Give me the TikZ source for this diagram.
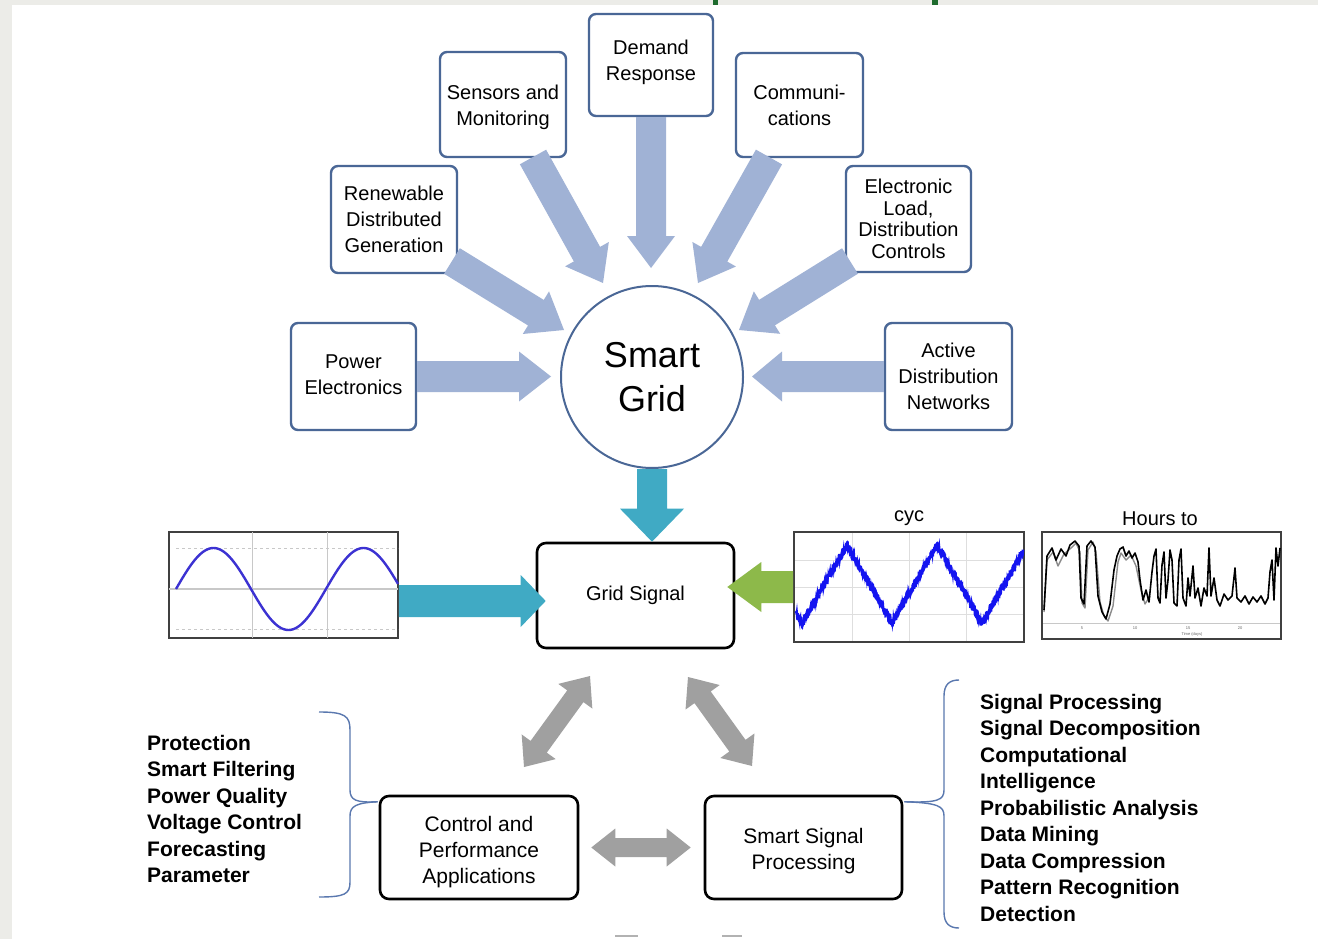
\documentclass[tikz,border=0pt]{standalone}
\usepackage{fontspec}
\setmainfont{Liberation Sans}
\usetikzlibrary{calc}

\definecolor{boxblue}{RGB}{74,103,150}
\definecolor{arrowblue}{RGB}{160,178,213}
\definecolor{sgteal}{RGB}{64,170,196}
\definecolor{sggreen}{RGB}{141,185,74}
\definecolor{sggray}{RGB}{160,160,160}
\definecolor{framegray}{RGB}{236,236,232}
\definecolor{framegreen}{RGB}{30,107,46}
\definecolor{bracecol}{RGB}{90,120,175}
\definecolor{sineblue}{RGB}{60,50,210}
\definecolor{noiseblue}{RGB}{20,20,240}
\definecolor{gridgray}{RGB}{200,200,200}

% block arrow: style, from, to, shaft half width, head half width, head length
\newcommand{\fatarrow}[6]{%
  \coordinate (faA) at (#2);
  \coordinate (faB) at (#3);
  \coordinate (faH) at ($(faB)!#6!(faA)$);
  \fill[#1] ($(faA)!#4!90:(faB)$) -- ($(faH)!#4!90:(faB)$) -- ($(faH)!#5!90:(faB)$)
    -- (faB) -- ($(faH)!#5!-90:(faB)$) -- ($(faH)!#4!-90:(faB)$) -- ($(faA)!#4!-90:(faB)$) -- cycle;
}
% double-headed block arrow: style, end, end, shaft half width, head half width, head length
\newcommand{\dblarrow}[6]{%
  \coordinate (daA) at (#2);
  \coordinate (daB) at (#3);
  \coordinate (daHA) at ($(daA)!#6!(daB)$);
  \coordinate (daHB) at ($(daB)!#6!(daA)$);
  \fill[#1] (daA) -- ($(daHA)!#5!90:(daB)$) -- ($(daHA)!#4!90:(daB)$) -- ($(daHB)!#4!90:(daB)$)
    -- ($(daHB)!#5!90:(daB)$) -- (daB) -- ($(daHB)!#5!-90:(daB)$) -- ($(daHB)!#4!-90:(daB)$)
    -- ($(daHA)!#4!-90:(daB)$) -- ($(daHA)!#5!-90:(daB)$) -- cycle;
}

\tikzset{
  topbox/.style={draw=boxblue, line width=2.4pt, rounded corners=7pt, fill=white,
    align=center, inner sep=2pt, font=\fontsize{20}{26}\selectfont},
  blackbox/.style={draw=black, line width=2.6pt, rounded corners=9pt, fill=white,
    align=center, font=\fontsize{21}{26}\selectfont},
  plotbox/.style={draw=black!75, line width=1.6pt, inner sep=0pt},
  biglist/.style={align=left, anchor=north west, inner sep=0pt,
    font=\bfseries\fontsize{21}{26.5}\selectfont},
  brace/.style={draw=bracecol, line width=1.4pt},
  plottitle/.style={font=\fontsize{20}{24}\selectfont, inner sep=0pt},
}

\begin{document}
\begin{tikzpicture}[x=1pt,y=-1pt]
\useasboundingbox (0,0) rectangle (1318,939);
\fill[white] (0,0) rectangle (1318,939);
% page frame
\fill[framegray] (0,0) rectangle (1318,5);
\fill[framegray] (0,0) rectangle (12,939);
\fill[framegreen] (713,0) rectangle (718,5);
\fill[framegreen] (932,0) rectangle (938,5);

% ---------- upper part: contributions to the smart grid ----------
\node[draw=boxblue, line width=2pt, circle, minimum size=182pt, inner sep=0pt, fill=white,
  align=center, font=\fontsize{36}{44}\selectfont] (sg) at (652,377) {Smart\\Grid};

\node[topbox, minimum width=124pt, minimum height=102pt] (dem) at (651,65) {Demand\\Response\rule[-10pt]{0pt}{0pt}};
\node[topbox, minimum width=126pt, minimum height=105pt] (sens) at (503,104.5) {\rule{0pt}{20pt}Sensors and\\Monitoring};
\node[topbox, minimum width=126pt, minimum height=107pt] (ren) at (394,219.5) {Renewable\\Distributed\\Generation};
\node[topbox, minimum width=127pt, minimum height=104pt] (comm) at (799.5,105) {Communi-\\cations};
\node[topbox, minimum width=125pt, minimum height=106pt, font=\fontsize{20}{21.5}\selectfont] (elec) at (908.5,219) {Electronic\\Load,\\Distribution\\Controls};
\node[topbox, minimum width=125pt, minimum height=107pt] (pow) at (353.5,376.5) {Power\\Electronics\rule[-4pt]{0pt}{0pt}};
\node[topbox, minimum width=127pt, minimum height=107pt] (act) at (948.5,376.5) {Active\\Distribution\\Networks};

% arrows into the smart grid
\coordinate (tdem) at (651,268);
\coordinate (ssens) at (533,157);  \coordinate (tsens) at (603,283);
\coordinate (sren) at (452,261);   \coordinate (tren) at (564,330);
\coordinate (scomm) at (769,157);  \coordinate (tcomm) at (698,283);
\coordinate (selec) at (850,261);  \coordinate (telec) at (739,330);
\coordinate (tpow) at (551,376.5);
\coordinate (tact) at (752,376.5);
\fatarrow{arrowblue}{dem.south}{tdem}{15pt}{24pt}{32pt}
\fatarrow{arrowblue}{ssens}{tsens}{15pt}{25pt}{33pt}
\fatarrow{arrowblue}{sren}{tren}{15pt}{25pt}{33pt}
\fatarrow{arrowblue}{scomm}{tcomm}{15pt}{25pt}{33pt}
\fatarrow{arrowblue}{selec}{telec}{15pt}{25pt}{33pt}
\fatarrow{arrowblue}{pow.east}{tpow}{15.5pt}{25pt}{32pt}
\fatarrow{arrowblue}{act.west}{tact}{15.5pt}{25pt}{30pt}

% ---------- middle part: the grid signal ----------
\node[blackbox, minimum width=197pt, minimum height=105pt, font=\fontsize{20}{24}\selectfont] (gs) at (635.5,595.5) {Grid Signal};

\coordinate (tgs) at (sg.south |- gs.north);
\fatarrow{sgteal}{sg.south}{tgs}{15pt}{32pt}{33pt}

% clean sine plot
\node[plotbox, minimum width=229pt, minimum height=106pt] (sine) at (283.5,585) {};
\draw[gridgray, line width=1pt] (252,532) -- (252,638) (327,532) -- (327,638);
\draw[gridgray, line width=1.6pt] (169,589) -- (398,589);
\draw[gridgray, line width=0.9pt, dashed] (176,548) -- (398,548) (176,629) -- (398,629);
\draw[sineblue, line width=2.4pt] plot[domain=176:398, samples=120, smooth] (\x,{589-41*sin(2.4*(\x-176))});
\coordinate (ssine) at ($(sine.east)+(0,16)$);
\coordinate (tsine) at ($(sine.east -| gs.west)+(10,16)$);
\fatarrow{sgteal}{ssine}{tsine}{16pt}{26pt}{25pt}

% noisy cycle plot
\node[plottitle] (cyctitle) at (909,518) {cyc};
\node[plotbox, minimum width=230pt, minimum height=110pt] (cyc) at (909,587) {};
\draw[gridgray!60, line width=0.6pt] (852,533) -- (852,641) (909,533) -- (909,641) (966,533) -- (966,641)
  (795,560) -- (1023,560) (795,587) -- (1023,587) (795,614) -- (1023,614);
\pgfmathsetseed{7}
\draw[noiseblue, line width=2.6pt, line join=round] plot[domain=796:1023, samples=460]
  (\x,{545+78*(1-abs(2*mod(\x-847+900,90)/90-1))+4*rand});
\draw[noiseblue, line width=1.4pt] plot[domain=796:1023, samples=500]
  (\x,{545+78*(1-abs(2*mod(\x-847+900,90)/90-1))+6*rand});
\coordinate (tcyc) at ($(cyc.west -| gs.east)+(-8,0)$);
\fatarrow{sggreen}{cyc.west}{tcyc}{16pt}{25pt}{34pt}

% load profile plot
\node[plottitle] (hourstitle) at (1160,519) {Hours to};
\node[plotbox, minimum width=239pt, minimum height=107pt] (hours) at (1161.5,585.5) {};
\draw[gridgray, line width=1pt] (1043,623) -- (1280,623);
\foreach \tx/\tl in {1082/5,1135/10,1188/15,1240/20}
  \node[font=\fontsize{4}{4}\selectfont, text=black!60, inner sep=0pt] at (\tx,628) {\tl};
\node[font=\fontsize{4}{4}\selectfont, text=black!60, inner sep=0pt] (timeaxis) at (1192,634) {Time (days)};
\draw[black!45, line width=1.4pt, line join=round] (1044,612) -- (1047,560) -- (1053,552) -- (1058,566)
  -- (1064,554) -- (1071,548) -- (1076,543) -- (1080,552) -- (1082,603) -- (1085,608) -- (1088,550)
  -- (1093,542) -- (1096,552) -- (1100,602) -- (1104,616) -- (1108,621) -- (1113,606) -- (1118,562)
  -- (1121,553) -- (1126,560) -- (1131,555) -- (1136,566) -- (1141,590) -- (1145,604) -- (1150,596);
\draw[black, line width=1.6pt, line join=round] (1044,610) -- (1047,556) -- (1052,548) -- (1056,560)
  -- (1061,549) -- (1066,556) -- (1070,545) -- (1075,541) -- (1079,546) -- (1081,598) -- (1084,604)
  -- (1087,546) -- (1091,541) -- (1095,547) -- (1098,596) -- (1102,612) -- (1106,619) -- (1110,604)
  -- (1114,570) -- (1117,556) -- (1120,549) -- (1123,547) -- (1126,556) -- (1129,551) -- (1132,558)
  -- (1135,553) -- (1138,562) -- (1140,580) -- (1143,600) -- (1146,590) -- (1149,602) -- (1152,572)
  -- (1154,556) -- (1156,549) -- (1158,598) -- (1160,603) -- (1162,565) -- (1164,552) -- (1166,598)
  -- (1168,580) -- (1170,550) -- (1172,560) -- (1174,603) -- (1177,606) -- (1179,560) -- (1181,549)
  -- (1183,598) -- (1186,606) -- (1188,578) -- (1190,596) -- (1193,566) -- (1195,598) -- (1198,588)
  -- (1201,606) -- (1204,588) -- (1207,596) -- (1209,548) -- (1211,596) -- (1214,578) -- (1217,600)
  -- (1220,606) -- (1224,594) -- (1228,600) -- (1232,596) -- (1235,568) -- (1237,598) -- (1241,602)
  -- (1245,596) -- (1249,604) -- (1253,597) -- (1257,602) -- (1261,596) -- (1265,604) -- (1268,598)
  -- (1270,572) -- (1272,560) -- (1274,600) -- (1276,548) -- (1278,566) -- (1280,548);

% ---------- lower part: applications and processing ----------
\node[blackbox, minimum width=198pt, minimum height=103pt] (ctrl) at (479,847.5) {\rule{0pt}{24pt}Control and\\Performance\\Applications};
\node[blackbox, minimum width=197pt, minimum height=103pt] (ssp) at (803.5,847.5) {\rule{0pt}{22pt}Smart Signal\\Processing};

\coordinate (dl1) at (524,767);  \coordinate (dl2) at (590,676);
\coordinate (dr1) at (688,677);  \coordinate (dr2) at (752,766);
\coordinate (dh1) at ($(ctrl.east)+(12,0)$);
\coordinate (dh2) at ($(ssp.west)+(-13,0)$);
\dblarrow{sggray}{dl1}{dl2}{10pt}{21pt}{25pt}
\dblarrow{sggray}{dr1}{dr2}{10pt}{21pt}{25pt}
\dblarrow{sggray}{dh1}{dh2}{9.5pt}{19pt}{24pt}

% left list and its brace
\node[biglist] (leftlist) at (147,735) {Protection\\Smart Filtering\\Power Quality\\Voltage Control\\Forecasting\\Parameter};
\coordinate (lbtop) at (319,712);
\coordinate (lbbot) at (319,897);
\coordinate (lbtip) at ($(ctrl.north west)+(-1,7)$);
\draw[brace] (lbtop) .. controls (345,712) and (350,716) .. (350,730) -- (350,790)
  .. controls (350,800) and (356,803) .. (lbtip);
\draw[brace] (lbtip) .. controls (356,803) and (350,806) .. (350,816) -- (350,882)
  .. controls (350,894) and (345,897) .. (lbbot);

% right list and its brace
\node[biglist] (rightlist) at (980,694) {Signal Processing\\Signal Decomposition\\Computational\\Intelligence\\Probabilistic Analysis\\Data Mining\\Data Compression\\Pattern Recognition\\Detection};
\coordinate (rbtop) at (959,680);
\coordinate (rbbot) at (959,928);
\coordinate (rbtip) at ($(ssp.north east)+(1,7)$);
\draw[brace] (rbtop) .. controls (950,680) and (944,684) .. (944,696) -- (944,790)
  .. controls (944,800) and (938,803) .. (rbtip);
\draw[brace] (rbtip) .. controls (938,803) and (944,806) .. (944,816) -- (944,912)
  .. controls (944,924) and (950,928) .. (rbbot);

% small marks at the bottom edge
\draw[black!30, line width=1.5pt] (615,936) -- (638,936) (722,936) -- (742,936);
\end{tikzpicture}
\end{document}
